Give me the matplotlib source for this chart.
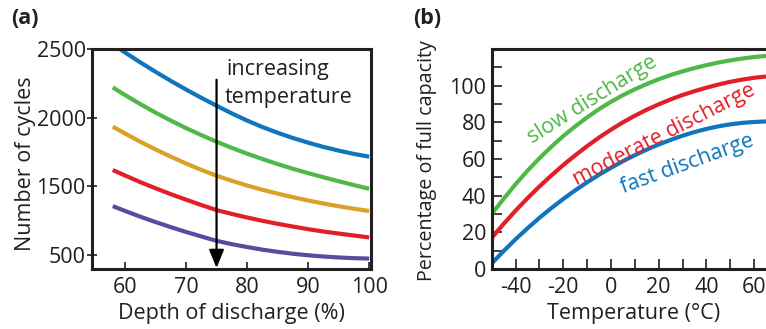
import matplotlib
matplotlib.use("Agg")
import matplotlib.pyplot as plt

plt.rcParams['font.family'] = ['Open Sans', 'DejaVu Sans']
plt.rcParams['axes.unicode_minus'] = False

# ---------------- data: panel (a) ----------------
depth = [58, 60, 62.5, 65, 67.5, 70, 72.5, 75, 77.5, 80, 82.5, 85, 87.5, 90, 92.5, 95, 97.5, 100]
cycles_blue = [2535, 2475, 2403, 2334, 2268, 2205, 2145, 2087, 2031, 1979, 1932, 1890, 1852, 1818, 1787, 1760, 1736, 1716]
cycles_green = [2220, 2165, 2099, 2037, 1979, 1924, 1873, 1825, 1780, 1738, 1699, 1662, 1628, 1596, 1566, 1537, 1509, 1482]
cycles_orange = [1935, 1885, 1825, 1769, 1716, 1666, 1620, 1577, 1540, 1506, 1475, 1447, 1421, 1397, 1375, 1355, 1337, 1320]
cycles_red = [1619, 1579, 1531, 1486, 1443, 1403, 1364, 1327, 1299, 1273, 1249, 1227, 1207, 1188, 1171, 1156, 1142, 1128]
cycles_purple = [1356, 1321, 1279, 1240, 1203, 1168, 1135, 1103, 1079, 1058, 1039, 1023, 1009, 998, 989, 982, 977, 974]
a_xticks = [60, 70, 80, 90, 100]
a_yticks = [1000, 1500, 2000, 2500]
a_yticklabels = ['500', '1500', '2000', '2500']

# ---------------- data: panel (b) ----------------
temp = [-50, -45, -40, -35, -30, -25, -20, -15, -10, -5, 0, 5, 10, 15, 20, 25, 30, 35, 40, 45, 50, 55, 60, 65]
cap_slow = [30, 38.3, 46.2, 53.6, 60.4, 66.7, 72.5, 77.8, 82.7, 87.2, 91.2, 94.8, 98, 100.9, 103.5, 105.8, 107.8, 109.6, 111.2, 112.6, 113.8, 114.8, 115.6, 116.2]
cap_moderate = [17, 24.6, 31.8, 38.6, 45, 51, 56.7, 62, 67, 71.7, 76, 80, 83.6, 86.9, 89.8, 92.5, 94.9, 97, 98.9, 100.6, 102.1, 103.3, 104.3, 105]
cap_fast = [3, 9.8, 16.2, 22.2, 27.9, 33.2, 38.2, 42.9, 47.3, 51.4, 55.2, 58.8, 62.1, 65.1, 67.9, 70.4, 72.7, 74.7, 76.4, 77.8, 78.9, 79.7, 80.2, 80.5]
b_xticks = [-40, -20, 0, 20, 40, 60]
b_yticks = [0, 20, 40, 60, 80, 100]

BLUE = '#0f75bc'
GREEN = '#50b848'
ORANGE = '#d9a128'
RED = '#e21f26'
PURPLE = '#5c4a9e'
DARK = '#231f20'

W, H = 766, 329
fig = plt.figure(figsize=(W / 100, H / 100), dpi=100)

def px_axes(x0, y0, x1, y1):
    return fig.add_axes([x0 / W, 1 - y1 / H, (x1 - x0) / W, (y1 - y0) / H])

FS = 15.5
LW = 3.0

# ---------------- panel (a) ----------------
ax1 = px_axes(92, 49, 371, 269)
for ys, c in [(cycles_blue, BLUE), (cycles_green, GREEN), (cycles_orange, ORANGE),
              (cycles_red, RED), (cycles_purple, PURPLE)]:
    ax1.plot(depth, ys, color=c, lw=LW, solid_capstyle='butt')
ax1.set_xlim(54.6, 100.3)
ax1.set_ylim(898, 2500)
ax1.set_xticks(a_xticks)
ax1.set_yticks(a_yticks)
ax1.set_yticklabels(a_yticklabels)
ax1.tick_params(axis='x', direction='in', length=5, width=1.2, color=DARK,
                labelsize=FS, pad=6, labelcolor=DARK)
ax1.tick_params(axis='y', direction='inout', length=7, width=1.2, color=DARK,
                labelsize=FS, pad=1, labelcolor=DARK)
for s in ax1.spines.values():
    s.set_linewidth(2.2)
    s.set_color(DARK)
ax1.set_xlabel('Depth of discharge (%)', fontsize=FS, color=DARK)
ax1.xaxis.label.set_va('center')
ax1.xaxis.set_label_coords(0.5, -0.2)
ax1.set_ylabel('Number of cycles', fontsize=FS, color=DARK)
ax1.yaxis.label.set_va('center')
ax1.yaxis.set_label_coords(-0.24, 0.477)

ax1.annotate('', xy=(75, 905), xytext=(75, 2276),
             arrowprops=dict(arrowstyle='-|>,head_length=1.1,head_width=0.45',
                             color='black', lw=1.6, shrinkA=0, shrinkB=0))
ax1.text(76.6, 2312, 'increasing', fontsize=FS, color=DARK, ha='left', va='baseline')
ax1.text(76.3, 2110, 'temperature', fontsize=FS, color=DARK, ha='left', va='baseline')

# ---------------- panel (b) ----------------
ax2 = px_axes(491.7, 49, 766, 269)
for ys, c in [(cap_slow, GREEN), (cap_moderate, RED), (cap_fast, BLUE)]:
    ax2.plot(temp, ys, color=c, lw=LW, solid_capstyle='butt')
ax2.set_xlim(-50, 65)
ax2.set_ylim(0, 120)
ax2.set_xticks(b_xticks)
ax2.set_xticks([-50, -30, -10, 10, 30, 50], minor=True)
ax2.set_yticks(b_yticks)
ax2.set_yticks([10, 30, 50, 70, 90, 110], minor=True)
for which in ('major', 'minor'):
    ax2.tick_params(axis='both', which=which, direction='in', length=7, width=1.2,
                    color=DARK, labelsize=FS, labelcolor=DARK)
ax2.tick_params(axis='x', which='major', pad=6)
ax2.tick_params(axis='y', which='major', pad=4)
ax2.spines['right'].set_visible(False)
for k in ('left', 'top', 'bottom'):
    ax2.spines[k].set_linewidth(2.2)
    ax2.spines[k].set_color(DARK)
ax2.set_xlabel('Temperature (°C)', fontsize=FS, color=DARK)
ax2.xaxis.label.set_va('center')
ax2.xaxis.set_label_coords(0.517, -0.2)
ax2.set_ylabel('Percentage of full capacity', fontsize=14.2, color=DARK)
ax2.yaxis.label.set_va('center')
ax2.yaxis.set_label_coords(-0.236, 0.493)

ax2.text(-7.6, 92.4, 'slow discharge', color=GREEN, fontsize=FS, rotation=32,
         ha='center', va='center', rotation_mode='anchor')
ax2.text(22.1, 73.3, 'moderate discharge', color=RED, fontsize=FS, rotation=27,
         ha='center', va='center', rotation_mode='anchor')
ax2.text(32.2, 57.4, 'fast discharge', color=BLUE, fontsize=FS, rotation=20,
         ha='center', va='center', rotation_mode='anchor')

fig.text(24.5 / W, 1 - 19 / H, '(a)', fontsize=FS, fontweight='bold', color=DARK,
         ha='center', va='center')
fig.text(427 / W, 1 - 18 / H, '(b)', fontsize=FS, fontweight='bold', color=DARK,
         ha='center', va='center')

fig.savefig('out.png', dpi=100)
